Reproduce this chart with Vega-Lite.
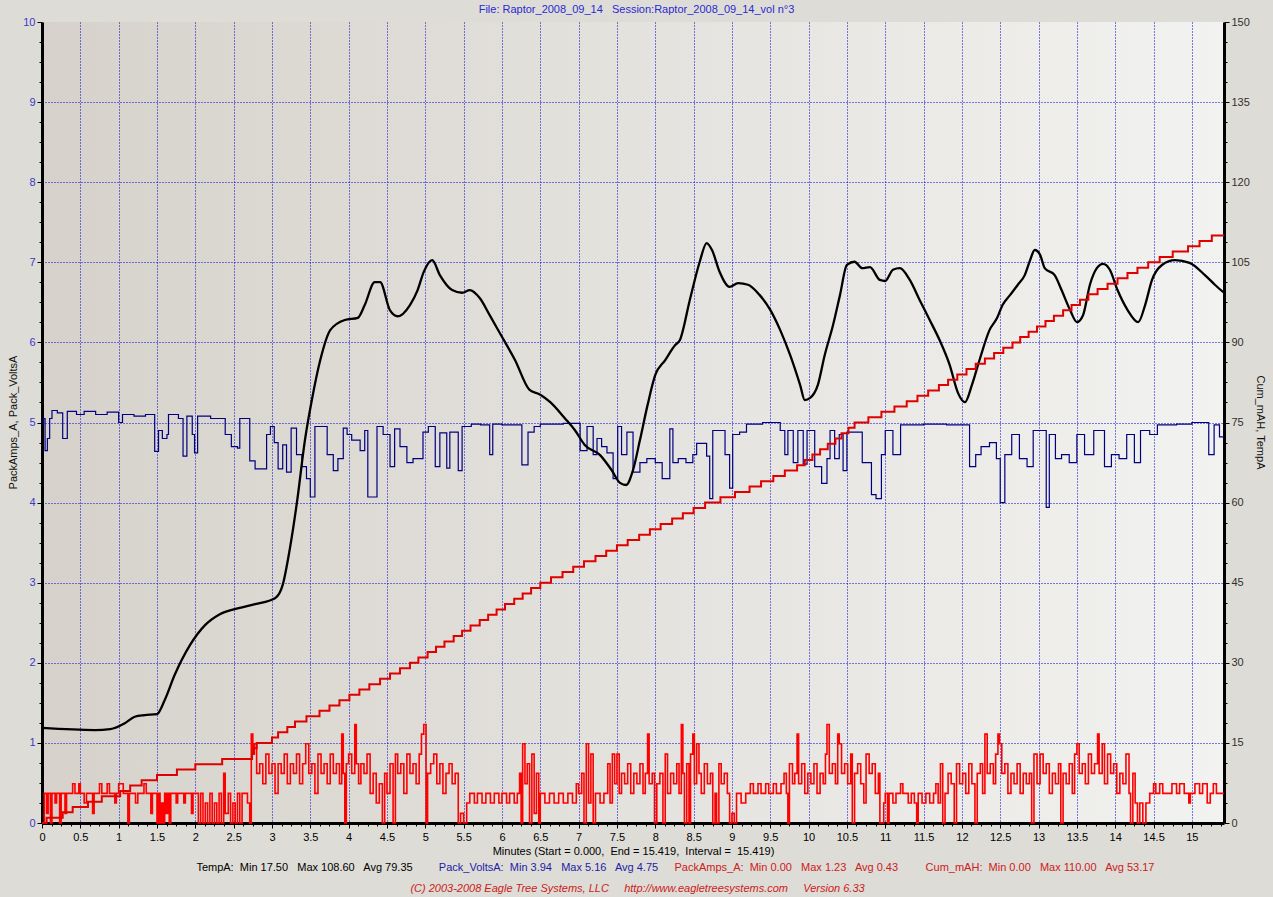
{
"$schema": "https://vega.github.io/schema/vega-lite/v6.json",
"width": 1182,
"height": 801,
"autosize": {"type": "none"},
"padding": {"left": 42, "top": 22, "right": 49, "bottom": 74},
"background": "#dedcd6",
"config": {
  "view": {"stroke": null, "fill": {"gradient": "linear", "x1": 0, "y1": 0, "x2": 1, "y2": 0, "stops": [{"offset": 0, "color": "#d6d2cb"}, {"offset": 1, "color": "#f2f2f0"}]}},
  "font": "Liberation Sans",
  "axis": {"labelFont": "Liberation Sans", "titleFont": "Liberation Sans", "titleFontWeight": "normal", "labelFontSize": 11, "titleFontSize": 11, "titleLimit": 2000, "labelFlush": false, "labelBound": false, "labelOverlap": false}
},
"datasets": {
"amps": [
{"t":0,"a":0},{"t":0.03,"a":0.37},{"t":0.06,"a":0.12},{"t":0.08,"a":0.37},{"t":0.11,"a":0},{"t":0.13,"a":0.37},{"t":0.17,"a":0.25},{"t":0.19,"a":0.37},{"t":0.23,"a":0},{"t":0.25,"a":0.37},{"t":0.3,"a":0.12},{"t":0.32,"a":0.37},{"t":0.4,"a":0.49},{"t":0.43,"a":0.37},{"t":0.48,"a":0.49},{"t":0.5,"a":0.37},{"t":0.55,"a":0.25},{"t":0.58,"a":0.37},{"t":0.66,"a":0.12},{"t":0.68,"a":0.37},{"t":0.75,"a":0.49},{"t":0.78,"a":0.37},{"t":0.85,"a":0.49},{"t":0.88,"a":0.37},{"t":0.95,"a":0.25},{"t":0.97,"a":0.37},{"t":1.0,"a":0.49},{"t":1.06,"a":0.37},{"t":1.12,"a":0},{"t":1.14,"a":0.37},{"t":1.22,"a":0.25},{"t":1.25,"a":0.37},{"t":1.33,"a":0.49},{"t":1.36,"a":0.37},{"t":1.42,"a":0.12},{"t":1.44,"a":0.37},{"t":1.5,"a":0},{"t":1.52,"a":0.37},{"t":1.54,"a":0},{"t":1.56,"a":0.25},{"t":1.58,"a":0},{"t":1.6,"a":0.37},{"t":1.62,"a":0.12},{"t":1.64,"a":0.37},{"t":1.66,"a":0},{"t":1.68,"a":0.37},{"t":1.75,"a":0.25},{"t":1.77,"a":0.37},{"t":1.85,"a":0.25},{"t":1.87,"a":0.37},{"t":1.95,"a":0.12},{"t":1.97,"a":0.37},{"t":2.04,"a":0},{"t":2.07,"a":0.37},{"t":2.1,"a":0},{"t":2.13,"a":0.25},{"t":2.16,"a":0},{"t":2.19,"a":0.37},{"t":2.22,"a":0},{"t":2.25,"a":0.25},{"t":2.28,"a":0},{"t":2.31,"a":0.37},{"t":2.34,"a":0},{"t":2.37,"a":0.62},{"t":2.39,"a":0.12},{"t":2.43,"a":0.37},{"t":2.46,"a":0},{"t":2.49,"a":0.25},{"t":2.52,"a":0},{"t":2.55,"a":0.37},{"t":2.58,"a":0},{"t":2.61,"a":0.37},{"t":2.68,"a":0.25},{"t":2.71,"a":0},{"t":2.73,"a":1.11},{"t":2.75,"a":0.86},{"t":2.77,"a":0.99},{"t":2.8,"a":0.62},{"t":2.84,"a":0.74},{"t":2.88,"a":0.49},{"t":2.92,"a":0.86},{"t":2.96,"a":0.62},{"t":3.0,"a":0.74},{"t":3.04,"a":0.37},{"t":3.08,"a":0.74},{"t":3.12,"a":0.62},{"t":3.16,"a":0.86},{"t":3.2,"a":0.49},{"t":3.24,"a":0.74},{"t":3.28,"a":0.62},{"t":3.32,"a":0.86},{"t":3.36,"a":0.49},{"t":3.4,"a":0.74},{"t":3.44,"a":0.99},{"t":3.48,"a":0.62},{"t":3.52,"a":0.74},{"t":3.56,"a":0.37},{"t":3.6,"a":0.86},{"t":3.64,"a":0.62},{"t":3.68,"a":0.74},{"t":3.72,"a":0.49},{"t":3.76,"a":0.86},{"t":3.8,"a":0.62},{"t":3.84,"a":0.74},{"t":3.88,"a":0.49},{"t":3.91,"a":1.11},{"t":3.93,"a":0.62},{"t":3.95,"a":0},{"t":3.97,"a":0.74},{"t":4.0,"a":0.86},{"t":4.04,"a":0.62},{"t":4.08,"a":1.23},{"t":4.1,"a":0.74},{"t":4.13,"a":0.49},{"t":4.16,"a":0.74},{"t":4.2,"a":0.62},{"t":4.24,"a":0.86},{"t":4.28,"a":0.37},{"t":4.32,"a":0.62},{"t":4.36,"a":0.25},{"t":4.4,"a":0.49},{"t":4.44,"a":0},{"t":4.47,"a":0.62},{"t":4.5,"a":0.37},{"t":4.54,"a":0.74},{"t":4.58,"a":0},{"t":4.61,"a":0.86},{"t":4.64,"a":0.62},{"t":4.68,"a":0.74},{"t":4.72,"a":0.37},{"t":4.76,"a":0.86},{"t":4.8,"a":0.62},{"t":4.84,"a":0.74},{"t":4.88,"a":0.49},{"t":4.92,"a":0.86},{"t":4.95,"a":1.11},{"t":4.98,"a":1.23},{"t":5.01,"a":0},{"t":5.03,"a":0.62},{"t":5.07,"a":0.74},{"t":5.11,"a":0.86},{"t":5.15,"a":0.49},{"t":5.19,"a":0.74},{"t":5.23,"a":0.37},{"t":5.27,"a":0.62},{"t":5.31,"a":0.74},{"t":5.35,"a":0.49},{"t":5.39,"a":0.62},{"t":5.43,"a":0},{"t":5.46,"a":0.12},{"t":5.5,"a":0},{"t":5.54,"a":0.25},{"t":5.58,"a":0.37},{"t":5.64,"a":0.25},{"t":5.68,"a":0.37},{"t":5.74,"a":0.25},{"t":5.79,"a":0.37},{"t":5.85,"a":0.25},{"t":5.9,"a":0.37},{"t":5.96,"a":0.25},{"t":6.0,"a":0.37},{"t":6.06,"a":0.25},{"t":6.1,"a":0.37},{"t":6.16,"a":0.25},{"t":6.2,"a":0.37},{"t":6.23,"a":0.62},{"t":6.25,"a":0},{"t":6.27,"a":0.99},{"t":6.3,"a":0.49},{"t":6.33,"a":0.74},{"t":6.36,"a":0},{"t":6.39,"a":0.86},{"t":6.42,"a":0.12},{"t":6.45,"a":0.62},{"t":6.48,"a":0},{"t":6.5,"a":0.37},{"t":6.56,"a":0.25},{"t":6.62,"a":0.37},{"t":6.68,"a":0.25},{"t":6.74,"a":0.37},{"t":6.8,"a":0.25},{"t":6.86,"a":0.37},{"t":6.92,"a":0.25},{"t":6.97,"a":0.49},{"t":7.0,"a":0.37},{"t":7.04,"a":0.62},{"t":7.07,"a":0},{"t":7.1,"a":0.99},{"t":7.13,"a":0.25},{"t":7.16,"a":0.86},{"t":7.19,"a":0},{"t":7.22,"a":0.37},{"t":7.28,"a":0.25},{"t":7.33,"a":0.37},{"t":7.38,"a":0.74},{"t":7.41,"a":0.25},{"t":7.44,"a":0.86},{"t":7.47,"a":0.49},{"t":7.5,"a":0.86},{"t":7.53,"a":0.37},{"t":7.56,"a":0.62},{"t":7.6,"a":0.49},{"t":7.64,"a":0.74},{"t":7.68,"a":0.37},{"t":7.72,"a":0.62},{"t":7.76,"a":0.49},{"t":7.8,"a":0.74},{"t":7.84,"a":0.37},{"t":7.87,"a":0.62},{"t":7.9,"a":1.11},{"t":7.92,"a":0.49},{"t":7.96,"a":0.62},{"t":7.99,"a":0},{"t":8.02,"a":0.49},{"t":8.06,"a":0.62},{"t":8.1,"a":0},{"t":8.13,"a":0.86},{"t":8.16,"a":0.37},{"t":8.2,"a":0.62},{"t":8.24,"a":0.49},{"t":8.28,"a":0.74},{"t":8.31,"a":0.37},{"t":8.34,"a":1.23},{"t":8.36,"a":0.62},{"t":8.38,"a":0},{"t":8.41,"a":0.74},{"t":8.44,"a":0},{"t":8.46,"a":0.86},{"t":8.49,"a":1.11},{"t":8.51,"a":0.49},{"t":8.54,"a":0.99},{"t":8.57,"a":0.62},{"t":8.6,"a":0.37},{"t":8.64,"a":0.74},{"t":8.68,"a":0.49},{"t":8.72,"a":0.62},{"t":8.75,"a":0},{"t":8.78,"a":0.37},{"t":8.8,"a":0},{"t":8.83,"a":0.74},{"t":8.86,"a":0.49},{"t":8.9,"a":0.62},{"t":8.94,"a":0.37},{"t":8.97,"a":0},{"t":9.0,"a":0.12},{"t":9.03,"a":0},{"t":9.06,"a":0.37},{"t":9.12,"a":0.25},{"t":9.18,"a":0.37},{"t":9.24,"a":0.49},{"t":9.28,"a":0.37},{"t":9.34,"a":0.49},{"t":9.38,"a":0.37},{"t":9.44,"a":0.49},{"t":9.48,"a":0.37},{"t":9.54,"a":0.49},{"t":9.58,"a":0.37},{"t":9.64,"a":0.49},{"t":9.68,"a":0.62},{"t":9.71,"a":0.37},{"t":9.73,"a":0},{"t":9.75,"a":0.74},{"t":9.79,"a":0.49},{"t":9.82,"a":0.62},{"t":9.85,"a":1.11},{"t":9.87,"a":0.49},{"t":9.91,"a":0.74},{"t":9.95,"a":0.37},{"t":9.99,"a":0.62},{"t":10.03,"a":0.49},{"t":10.07,"a":0.74},{"t":10.11,"a":0.37},{"t":10.15,"a":0.62},{"t":10.19,"a":0.49},{"t":10.22,"a":0.86},{"t":10.24,"a":1.23},{"t":10.27,"a":0.62},{"t":10.31,"a":0.74},{"t":10.35,"a":0.49},{"t":10.38,"a":1.11},{"t":10.4,"a":0.99},{"t":10.43,"a":0.62},{"t":10.47,"a":0.74},{"t":10.51,"a":0.49},{"t":10.55,"a":0.86},{"t":10.57,"a":0},{"t":10.6,"a":0.62},{"t":10.64,"a":0.74},{"t":10.68,"a":0.49},{"t":10.72,"a":0.25},{"t":10.75,"a":0.86},{"t":10.79,"a":0.62},{"t":10.83,"a":0.74},{"t":10.87,"a":0.37},{"t":10.91,"a":0.62},{"t":10.93,"a":0},{"t":10.98,"a":0.25},{"t":11.0,"a":0.37},{"t":11.03,"a":0},{"t":11.05,"a":0.37},{"t":11.1,"a":0.25},{"t":11.14,"a":0.37},{"t":11.2,"a":0.49},{"t":11.23,"a":0.37},{"t":11.3,"a":0.25},{"t":11.34,"a":0.37},{"t":11.38,"a":0.25},{"t":11.41,"a":0},{"t":11.43,"a":0.37},{"t":11.48,"a":0.25},{"t":11.53,"a":0.37},{"t":11.58,"a":0.25},{"t":11.63,"a":0.37},{"t":11.66,"a":0.49},{"t":11.69,"a":0.25},{"t":11.72,"a":0.74},{"t":11.75,"a":0},{"t":11.78,"a":0.37},{"t":11.82,"a":0.62},{"t":11.86,"a":0.49},{"t":11.9,"a":0},{"t":11.93,"a":0.74},{"t":11.97,"a":0.49},{"t":12.01,"a":0.62},{"t":12.05,"a":0.37},{"t":12.09,"a":0.74},{"t":12.13,"a":0.49},{"t":12.17,"a":0},{"t":12.2,"a":0.62},{"t":12.24,"a":0.74},{"t":12.27,"a":0.37},{"t":12.3,"a":1.11},{"t":12.33,"a":0.62},{"t":12.37,"a":0.74},{"t":12.41,"a":0.49},{"t":12.44,"a":0.86},{"t":12.47,"a":1.11},{"t":12.49,"a":0.99},{"t":12.52,"a":0.62},{"t":12.56,"a":0.74},{"t":12.6,"a":0.37},{"t":12.64,"a":0.62},{"t":12.68,"a":0.49},{"t":12.72,"a":0.74},{"t":12.76,"a":0.37},{"t":12.8,"a":0.62},{"t":12.84,"a":0.49},{"t":12.88,"a":0.62},{"t":12.91,"a":0},{"t":12.94,"a":0.86},{"t":12.98,"a":0.49},{"t":13.02,"a":0.86},{"t":13.06,"a":0.62},{"t":13.1,"a":0.74},{"t":13.14,"a":0.37},{"t":13.18,"a":0.62},{"t":13.22,"a":0.49},{"t":13.26,"a":0.74},{"t":13.29,"a":0},{"t":13.32,"a":0.62},{"t":13.36,"a":0.49},{"t":13.4,"a":0.74},{"t":13.44,"a":0.37},{"t":13.47,"a":0.86},{"t":13.5,"a":0.99},{"t":13.53,"a":0.62},{"t":13.57,"a":0.74},{"t":13.61,"a":0.49},{"t":13.65,"a":0.86},{"t":13.69,"a":0.62},{"t":13.73,"a":0.74},{"t":13.77,"a":1.11},{"t":13.79,"a":0.62},{"t":13.83,"a":0.99},{"t":13.86,"a":0.49},{"t":13.9,"a":0.86},{"t":13.94,"a":0.62},{"t":13.98,"a":0.74},{"t":14.02,"a":0.37},{"t":14.06,"a":0.62},{"t":14.1,"a":0.49},{"t":14.14,"a":0.86},{"t":14.18,"a":0.37},{"t":14.2,"a":0},{"t":14.23,"a":0.62},{"t":14.26,"a":0.25},{"t":14.29,"a":0},{"t":14.32,"a":0.25},{"t":14.36,"a":0},{"t":14.4,"a":0.25},{"t":14.45,"a":0.37},{"t":14.5,"a":0.49},{"t":14.53,"a":0.37},{"t":14.58,"a":0.49},{"t":14.62,"a":0.37},{"t":14.74,"a":0.49},{"t":14.8,"a":0.37},{"t":14.84,"a":0.49},{"t":14.9,"a":0.37},{"t":14.96,"a":0.25},{"t":14.98,"a":0.37},{"t":15.04,"a":0.49},{"t":15.1,"a":0.37},{"t":15.14,"a":0.49},{"t":15.2,"a":0.25},{"t":15.24,"a":0.37},{"t":15.28,"a":0.49},{"t":15.32,"a":0.37},{"t":15.419,"a":0.37}
],
"volts": [
{"t":0,"v":4.98},{"t":0.02,"v":5.05},{"t":0.04,"v":4.65},{"t":0.07,"v":4.8},{"t":0.1,"v":5.05},{"t":0.13,"v":5.15},{"t":0.2,"v":5.12},{"t":0.27,"v":4.8},{"t":0.33,"v":5.14},{"t":0.45,"v":5.1},{"t":0.55,"v":5.14},{"t":0.7,"v":5.1},{"t":0.85,"v":5.13},{"t":1.0,"v":5.0},{"t":1.05,"v":5.1},{"t":1.2,"v":5.08},{"t":1.35,"v":5.1},{"t":1.47,"v":4.64},{"t":1.52,"v":4.9},{"t":1.57,"v":4.8},{"t":1.63,"v":4.85},{"t":1.65,"v":5.1},{"t":1.78,"v":5.05},{"t":1.84,"v":4.58},{"t":1.89,"v":5.08},{"t":1.96,"v":4.85},{"t":1.99,"v":4.62},{"t":2.03,"v":5.08},{"t":2.2,"v":5.05},{"t":2.35,"v":5.05},{"t":2.39,"v":4.85},{"t":2.47,"v":4.7},{"t":2.55,"v":4.68},{"t":2.58,"v":5.05},{"t":2.71,"v":4.52},{"t":2.78,"v":4.42},{"t":2.93,"v":4.85},{"t":2.98,"v":4.95},{"t":3.03,"v":4.75},{"t":3.08,"v":4.42},{"t":3.14,"v":4.72},{"t":3.19,"v":4.38},{"t":3.25,"v":4.93},{"t":3.32,"v":4.6},{"t":3.39,"v":4.45},{"t":3.45,"v":4.3},{"t":3.5,"v":4.07},{"t":3.56,"v":4.95},{"t":3.72,"v":4.6},{"t":3.8,"v":4.4},{"t":3.86,"v":4.55},{"t":3.93,"v":4.93},{"t":3.98,"v":4.85},{"t":4.04,"v":4.78},{"t":4.15,"v":4.65},{"t":4.21,"v":4.9},{"t":4.25,"v":4.07},{"t":4.37,"v":4.95},{"t":4.45,"v":4.85},{"t":4.54,"v":4.45},{"t":4.6,"v":4.92},{"t":4.67,"v":4.7},{"t":4.76,"v":4.5},{"t":4.84,"v":4.55},{"t":4.97,"v":4.88},{"t":5.04,"v":4.95},{"t":5.13,"v":4.45},{"t":5.19,"v":4.87},{"t":5.28,"v":4.43},{"t":5.32,"v":4.88},{"t":5.43,"v":4.4},{"t":5.48,"v":4.95},{"t":5.6,"v":4.98},{"t":5.72,"v":4.97},{"t":5.84,"v":4.6},{"t":5.88,"v":4.98},{"t":6.0,"v":4.97},{"t":6.26,"v":4.47},{"t":6.34,"v":4.88},{"t":6.42,"v":4.95},{"t":6.5,"v":4.98},{"t":6.8,"v":4.99},{"t":7.02,"v":4.65},{"t":7.11,"v":4.95},{"t":7.19,"v":4.6},{"t":7.24,"v":4.8},{"t":7.3,"v":4.7},{"t":7.37,"v":4.62},{"t":7.45,"v":4.3},{"t":7.51,"v":4.95},{"t":7.56,"v":4.6},{"t":7.63,"v":4.88},{"t":7.71,"v":4.38},{"t":7.8,"v":4.5},{"t":7.89,"v":4.55},{"t":8.0,"v":4.5},{"t":8.09,"v":4.3},{"t":8.19,"v":4.92},{"t":8.23,"v":4.5},{"t":8.3,"v":4.55},{"t":8.4,"v":4.5},{"t":8.49,"v":4.6},{"t":8.54,"v":4.74},{"t":8.67,"v":4.58},{"t":8.71,"v":4.05},{"t":8.75,"v":4.9},{"t":8.91,"v":4.6},{"t":8.97,"v":4.18},{"t":9.01,"v":4.85},{"t":9.1,"v":4.88},{"t":9.19,"v":4.98},{"t":9.4,"v":5.0},{"t":9.63,"v":4.9},{"t":9.69,"v":4.6},{"t":9.73,"v":4.9},{"t":9.8,"v":4.5},{"t":9.86,"v":4.9},{"t":9.93,"v":4.48},{"t":9.98,"v":4.9},{"t":10.08,"v":4.45},{"t":10.17,"v":4.24},{"t":10.24,"v":4.55},{"t":10.28,"v":4.9},{"t":10.34,"v":4.55},{"t":10.4,"v":4.85},{"t":10.45,"v":4.4},{"t":10.5,"v":4.88},{"t":10.7,"v":4.5},{"t":10.82,"v":4.1},{"t":10.88,"v":4.05},{"t":10.95,"v":4.6},{"t":11.0,"v":4.9},{"t":11.1,"v":4.6},{"t":11.2,"v":4.97},{"t":11.5,"v":4.98},{"t":11.8,"v":4.97},{"t":12.1,"v":4.45},{"t":12.18,"v":4.6},{"t":12.25,"v":4.7},{"t":12.36,"v":4.75},{"t":12.45,"v":4.55},{"t":12.5,"v":4.0},{"t":12.56,"v":4.6},{"t":12.65,"v":4.85},{"t":12.75,"v":4.55},{"t":12.85,"v":4.45},{"t":12.93,"v":4.9},{"t":13.1,"v":3.94},{"t":13.14,"v":4.85},{"t":13.22,"v":4.55},{"t":13.3,"v":4.6},{"t":13.4,"v":4.5},{"t":13.5,"v":4.85},{"t":13.6,"v":4.6},{"t":13.72,"v":4.9},{"t":13.86,"v":4.45},{"t":13.95,"v":4.6},{"t":14.05,"v":4.55},{"t":14.15,"v":4.85},{"t":14.25,"v":4.5},{"t":14.33,"v":4.9},{"t":14.45,"v":4.85},{"t":14.55,"v":4.97},{"t":14.8,"v":4.98},{"t":15.0,"v":5.0},{"t":15.22,"v":4.6},{"t":15.29,"v":4.97},{"t":15.36,"v":4.82},{"t":15.419,"v":4.82}
],
"temp": [
{"t":0,"c":17.8},{"t":0.69,"c":17.4},{"t":0.89,"c":17.6},{"t":1.08,"c":18.7},{"t":1.21,"c":19.9},{"t":1.34,"c":20.2},{"t":1.5,"c":20.4},{"t":1.6,"c":23},{"t":1.73,"c":27.7},{"t":1.93,"c":33.3},{"t":2.13,"c":37.1},{"t":2.32,"c":39.1},{"t":2.58,"c":40.3},{"t":2.78,"c":41},{"t":3.04,"c":42.1},{"t":3.14,"c":44.6},{"t":3.23,"c":51.1},{"t":3.33,"c":60.5},{"t":3.43,"c":71.7},{"t":3.52,"c":79.2},{"t":3.63,"c":86.7},{"t":3.76,"c":92.3},{"t":3.95,"c":94.2},{"t":4.12,"c":94.6},{"t":4.21,"c":97},{"t":4.34,"c":101.3},{"t":4.41,"c":101.3},{"t":4.54,"c":96},{"t":4.64,"c":94.9},{"t":4.8,"c":97},{"t":4.9,"c":99.8},{"t":4.98,"c":103.2},{"t":5.09,"c":105.4},{"t":5.19,"c":102.6},{"t":5.35,"c":99.8},{"t":5.48,"c":99.3},{"t":5.58,"c":99.8},{"t":5.71,"c":98.3},{"t":5.84,"c":95.1},{"t":5.97,"c":91.8},{"t":6.17,"c":86.7},{"t":6.36,"c":81.1},{"t":6.5,"c":80.2},{"t":6.63,"c":78.8},{"t":6.82,"c":75.8},{"t":6.95,"c":73.6},{"t":7.08,"c":70.8},{"t":7.28,"c":68.9},{"t":7.43,"c":66.1},{"t":7.54,"c":63.7},{"t":7.62,"c":63.3},{"t":7.71,"c":66.1},{"t":7.8,"c":71.7},{"t":7.9,"c":78.3},{"t":8.0,"c":83.9},{"t":8.13,"c":86.7},{"t":8.26,"c":89.5},{"t":8.32,"c":90.4},{"t":8.45,"c":97.9},{"t":8.58,"c":105.1},{"t":8.67,"c":108.6},{"t":8.74,"c":107.3},{"t":8.84,"c":103.2},{"t":8.97,"c":100.4},{"t":9.08,"c":101.1},{"t":9.21,"c":100.8},{"t":9.36,"c":98.9},{"t":9.5,"c":96.1},{"t":9.63,"c":92.3},{"t":9.76,"c":87.6},{"t":9.89,"c":82},{"t":9.95,"c":79.2},{"t":10.02,"c":79.6},{"t":10.12,"c":82},{"t":10.21,"c":87.6},{"t":10.32,"c":93.3},{"t":10.41,"c":98.9},{"t":10.5,"c":104.5},{"t":10.6,"c":105.1},{"t":10.7,"c":103.9},{"t":10.8,"c":104.1},{"t":10.93,"c":101.7},{"t":11.0,"c":101.5},{"t":11.1,"c":103.6},{"t":11.19,"c":103.9},{"t":11.32,"c":101.7},{"t":11.45,"c":97.9},{"t":11.58,"c":94.2},{"t":11.71,"c":90.4},{"t":11.84,"c":85.8},{"t":11.95,"c":80.5},{"t":12.04,"c":78.8},{"t":12.13,"c":82},{"t":12.23,"c":86.7},{"t":12.36,"c":92.3},{"t":12.46,"c":94.6},{"t":12.53,"c":97},{"t":12.63,"c":98.9},{"t":12.73,"c":100.8},{"t":12.82,"c":102.6},{"t":12.89,"c":105.4},{"t":12.95,"c":107.3},{"t":13.02,"c":106.4},{"t":13.08,"c":103.9},{"t":13.21,"c":102.6},{"t":13.3,"c":99.8},{"t":13.41,"c":96.1},{"t":13.5,"c":93.8},{"t":13.58,"c":95.1},{"t":13.67,"c":100.8},{"t":13.76,"c":103.9},{"t":13.84,"c":104.7},{"t":13.93,"c":103.6},{"t":14.03,"c":99.8},{"t":14.16,"c":96.1},{"t":14.3,"c":93.8},{"t":14.39,"c":97},{"t":14.48,"c":101.7},{"t":14.61,"c":104.5},{"t":14.78,"c":105.4},{"t":14.97,"c":104.9},{"t":15.17,"c":102.6},{"t":15.3,"c":100.8},{"t":15.419,"c":99.3}
],
"cum": [
{"t":0,"m":0},{"t":0.06,"m":1},{"t":0.27,"m":2},{"t":0.4,"m":3},{"t":0.6,"m":4},{"t":0.78,"m":5},{"t":1.02,"m":6},{"t":1.15,"m":7},{"t":1.3,"m":8},{"t":1.5,"m":9},{"t":1.76,"m":10},{"t":2.0,"m":11},{"t":2.35,"m":12},{"t":2.74,"m":13},{"t":2.76,"m":14},{"t":2.8,"m":15},{"t":3.0,"m":16},{"t":3.08,"m":17},{"t":3.2,"m":18},{"t":3.3,"m":19},{"t":3.45,"m":20},{"t":3.62,"m":21},{"t":3.75,"m":22},{"t":3.88,"m":23},{"t":4.01,"m":24},{"t":4.14,"m":25},{"t":4.27,"m":26},{"t":4.41,"m":27},{"t":4.54,"m":28},{"t":4.67,"m":29},{"t":4.8,"m":30},{"t":4.91,"m":31},{"t":5.03,"m":32},{"t":5.14,"m":33},{"t":5.25,"m":34},{"t":5.37,"m":35},{"t":5.48,"m":36},{"t":5.59,"m":37},{"t":5.71,"m":38},{"t":5.82,"m":39},{"t":5.93,"m":40},{"t":6.04,"m":41},{"t":6.16,"m":42},{"t":6.27,"m":43},{"t":6.38,"m":44},{"t":6.5,"m":45},{"t":6.64,"m":46},{"t":6.79,"m":47},{"t":6.93,"m":48},{"t":7.07,"m":49},{"t":7.22,"m":50},{"t":7.36,"m":51},{"t":7.5,"m":52},{"t":7.64,"m":53},{"t":7.79,"m":54},{"t":7.93,"m":55},{"t":8.07,"m":56},{"t":8.22,"m":57},{"t":8.36,"m":58},{"t":8.5,"m":59},{"t":8.65,"m":60},{"t":8.85,"m":61},{"t":9.04,"m":62},{"t":9.23,"m":63},{"t":9.38,"m":64},{"t":9.54,"m":65},{"t":9.69,"m":66},{"t":9.85,"m":67},{"t":9.95,"m":68},{"t":10.05,"m":69},{"t":10.15,"m":70},{"t":10.25,"m":71},{"t":10.35,"m":72},{"t":10.43,"m":73},{"t":10.52,"m":74},{"t":10.6,"m":75},{"t":10.78,"m":76},{"t":10.95,"m":77},{"t":11.12,"m":78},{"t":11.28,"m":79},{"t":11.42,"m":80},{"t":11.56,"m":81},{"t":11.7,"m":82},{"t":11.82,"m":83},{"t":11.94,"m":84},{"t":12.06,"m":85},{"t":12.18,"m":86},{"t":12.3,"m":87},{"t":12.42,"m":88},{"t":12.54,"m":89},{"t":12.66,"m":90},{"t":12.76,"m":91},{"t":12.87,"m":92},{"t":12.98,"m":93},{"t":13.09,"m":94},{"t":13.2,"m":95},{"t":13.32,"m":96},{"t":13.43,"m":97},{"t":13.54,"m":98},{"t":13.65,"m":99},{"t":13.77,"m":100},{"t":13.9,"m":101},{"t":14.03,"m":102},{"t":14.16,"m":103},{"t":14.29,"m":104},{"t":14.43,"m":105},{"t":14.58,"m":106},{"t":14.75,"m":107},{"t":14.95,"m":108},{"t":15.1,"m":109},{"t":15.26,"m":110},{"t":15.419,"m":110}
]
},
"layer": [
{
 "data": {"name": "amps"},
 "mark": {"type": "line", "interpolate": "step-after", "color": "#ff0000", "strokeWidth": 1.6},
 "encoding": {
  "x": {"field": "t", "type": "quantitative", "scale": {"domain": [0, 15.419], "nice": false, "zero": false},
   "axis": {"orient": "bottom", "values": [0,0.125,0.25,0.375,0.5,0.625,0.75,0.875,1,1.125,1.25,1.375,1.5,1.625,1.75,1.875,2,2.125,2.25,2.375,2.5,2.625,2.75,2.875,3,3.125,3.25,3.375,3.5,3.625,3.75,3.875,4,4.125,4.25,4.375,4.5,4.625,4.75,4.875,5,5.125,5.25,5.375,5.5,5.625,5.75,5.875,6,6.125,6.25,6.375,6.5,6.625,6.75,6.875,7,7.125,7.25,7.375,7.5,7.625,7.75,7.875,8,8.125,8.25,8.375,8.5,8.625,8.75,8.875,9,9.125,9.25,9.375,9.5,9.625,9.75,9.875,10,10.125,10.25,10.375,10.5,10.625,10.75,10.875,11,11.125,11.25,11.375,11.5,11.625,11.75,11.875,12,12.125,12.25,12.375,12.5,12.625,12.75,12.875,13,13.125,13.25,13.375,13.5,13.625,13.75,13.875,14,14.125,14.25,14.375,14.5,14.625,14.75,14.875,15,15.125,15.25,15.375],
    "format": "~g",
    "labelExpr": "datum.value % 0.5 === 0 ? datum.label : ''",
    "labelColor": "#000000", "labelPadding": 3,
    "tickSize": {"condition": {"test": "datum.value % 0.5 === 0", "value": 5}, "value": 3},
    "tickColor": "#000000", "domainColor": "#000000", "domainWidth": 3,
    "grid": true, "gridColor": "#0000c8", "gridDash": [1, 2], "gridWidth": 1,
    "gridOpacity": {"condition": {"test": "datum.value % 0.5 === 0 && datum.value > 0", "value": 1}, "value": 0},
    "title": "Minutes (Start = 0.000,\u00a0 End = 15.419,\u00a0 Interval =\u00a0 15.419)",
    "titleX": 591, "titleY": 28, "titleAlign": "center", "titleBaseline": "middle", "titleColor": "#000000"}},
  "y": {"field": "a", "type": "quantitative", "scale": {"domain": [0, 10], "nice": false, "zero": false},
   "axis": {"orient": "left", "values": [0,0.25,0.5,0.75,1,1.25,1.5,1.75,2,2.25,2.5,2.75,3,3.25,3.5,3.75,4,4.25,4.5,4.75,5,5.25,5.5,5.75,6,6.25,6.5,6.75,7,7.25,7.5,7.75,8,8.25,8.5,8.75,9,9.25,9.5,9.75,10],
    "format": "~g",
    "labelExpr": "datum.value % 1 === 0 ? datum.label : ''",
    "labelColor": "#3a3ac8", "labelPadding": 2,
    "tickSize": {"condition": {"test": "datum.value % 1 === 0", "value": 5}, "value": 3},
    "tickColor": "#000000", "domainColor": "#000000", "domainWidth": 3,
    "grid": true, "gridColor": "#0000c8", "gridDash": [1, 2], "gridWidth": 1,
    "gridOpacity": {"condition": {"test": "datum.value % 1 === 0 && datum.value > 0 && datum.value < 10", "value": 1}, "value": 0},
    "title": "PackAmps_A, Pack_VoltsA",
    "titleX": -29, "titleY": 400, "titleAngle": 270, "titleAlign": "center", "titleBaseline": "middle", "titleColor": "#111111"}}
 }
},
{
 "data": {"name": "volts"},
 "mark": {"type": "line", "interpolate": "step-after", "color": "#000080", "strokeWidth": 1.2},
 "encoding": {
  "x": {"field": "t", "type": "quantitative", "scale": {"domain": [0, 15.419], "nice": false, "zero": false},
   "axis": {"orient": "bottom", "labels": false, "ticks": false, "domain": false, "grid": false,
    "title": "TempA:\u00a0 Min 17.50\u00a0\u00a0 Max 108.60\u00a0\u00a0 Avg 79.35",
    "titleX": 262, "titleY": 44, "titleAlign": "center", "titleBaseline": "middle", "titleColor": "#000000"}},
  "y": {"field": "v", "type": "quantitative", "scale": {"domain": [0, 10], "nice": false, "zero": false},
   "axis": {"orient": "left", "labels": false, "ticks": false, "domain": false, "grid": false,
    "title": "Pack_VoltsA:\u00a0 Min 3.94\u00a0\u00a0 Max 5.16\u00a0\u00a0 Avg 4.75",
    "titleX": 506, "titleY": 845, "titleAngle": 0, "titleAlign": "center", "titleBaseline": "middle", "titleColor": "#1c1ca8"}}
 }
},
{
 "data": {"name": "temp"},
 "mark": {"type": "line", "interpolate": "monotone", "color": "#000000", "strokeWidth": 2.3},
 "encoding": {
  "x": {"field": "t", "type": "quantitative", "scale": {"domain": [0, 15.419], "nice": false, "zero": false},
   "axis": {"orient": "top", "labels": false, "ticks": false, "domain": false, "grid": false,
    "title": "File: Raptor_2008_09_14\u00a0\u00a0 Session:Raptor_2008_09_14_vol n°3",
    "titleX": 594, "titleY": -13, "titleAlign": "center", "titleBaseline": "middle", "titleColor": "#2a2ad2"}},
  "y": {"field": "c", "type": "quantitative", "scale": {"domain": [0, 150], "nice": false, "zero": false},
   "axis": {"orient": "right", "values": [0,3.75,7.5,11.25,15,18.75,22.5,26.25,30,33.75,37.5,41.25,45,48.75,52.5,56.25,60,63.75,67.5,71.25,75,78.75,82.5,86.25,90,93.75,97.5,101.25,105,108.75,112.5,116.25,120,123.75,127.5,131.25,135,138.75,142.5,146.25,150],
    "format": "~g",
    "labelExpr": "datum.value % 15 === 0 ? datum.label : ''",
    "labelColor": "#303030", "labelPadding": 2,
    "tickSize": {"condition": {"test": "datum.value % 15 === 0", "value": 5}, "value": 3},
    "tickColor": "#000000", "domainColor": "#000000", "domainWidth": 3, "grid": false,
    "title": "Cum_mAH, TempA",
    "titleX": 35, "titleY": 400, "titleAngle": 90, "titleAlign": "center", "titleBaseline": "middle", "titleColor": "#111111"}}
 }
},
{
 "data": {"name": "cum"},
 "mark": {"type": "line", "interpolate": "step-after", "color": "#e00000", "strokeWidth": 2},
 "encoding": {
  "x": {"field": "t", "type": "quantitative", "scale": {"domain": [0, 15.419], "nice": false, "zero": false},
   "axis": {"orient": "bottom", "labels": false, "ticks": false, "domain": false, "grid": false,
    "title": "PackAmps_A:\u00a0 Min 0.00\u00a0\u00a0 Max 1.23\u00a0\u00a0 Avg 0.43\u00a0\u00a0\u00a0\u00a0\u00a0\u00a0\u00a0\u00a0 Cum_mAH:\u00a0 Min 0.00\u00a0\u00a0 Max 110.00\u00a0\u00a0 Avg 53.17",
    "titleX": 872, "titleY": 44, "titleAlign": "center", "titleBaseline": "middle", "titleColor": "#cc2020"}},
  "y": {"field": "m", "type": "quantitative", "scale": {"domain": [0, 150], "nice": false, "zero": false},
   "axis": {"orient": "right", "labels": false, "ticks": false, "domain": false, "grid": false,
    "title": "(C) 2003-2008 Eagle Tree Systems, LLC\u00a0\u00a0\u00a0\u00a0 http://www.eagletreesystems.com\u00a0\u00a0\u00a0\u00a0 Version 6.33",
    "titleX": -587, "titleY": 866, "titleAngle": 0, "titleAlign": "center", "titleBaseline": "middle", "titleColor": "#cc2020", "titleFontStyle": "italic"}}
 }
}
],
"resolve": {"scale": {"x": "independent", "y": "independent"}}
}
